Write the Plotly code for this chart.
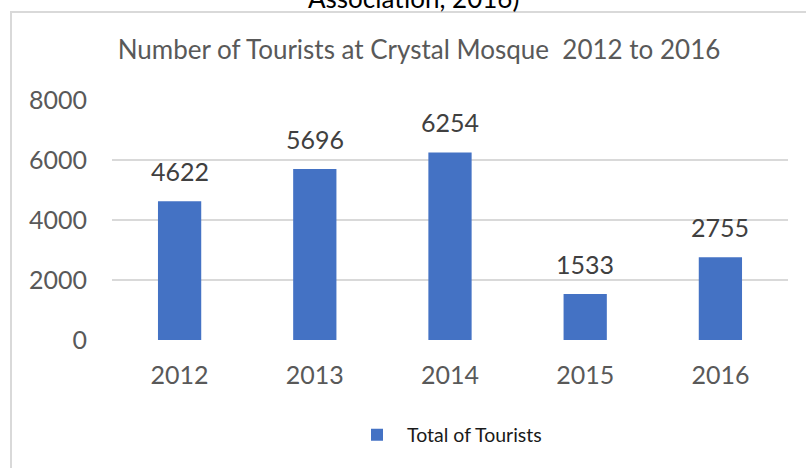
import plotly.graph_objects as go

years = ["2012", "2013", "2014", "2015", "2016"]
tourists = [4622, 5696, 6254, 1533, 2755]
y_ticks = [0, 2000, 4000, 6000, 8000]
series_name = "Total of Tourists"
title_text = "Number of Tourists at Crystal Mosque  2012 to 2016"
caption_text = "Association, 2016)"

W, H = 806, 468
L, R, T, B = 112, 788, 100, 340
FONT = "Lato"
GREY = "#595959"


def px(x):
    return (x - L) / (R - L)


def py(y):
    return (B - y) / (B - T)


fig = go.Figure()
fig.add_trace(go.Bar(
    x=years, y=tourists, name=series_name,
    marker=dict(color="#4472C4", line=dict(width=0)),
    showlegend=True,
))

annotations = []
for i, v in enumerate(tourists):
    annotations.append(dict(
        x=i, y=v, xref="x", yref="y", text=str(v), showarrow=False,
        yanchor="bottom", yshift=13,
        font=dict(family=FONT, size=25, color="#404040"),
    ))
annotations.append(dict(
    x=px(413), y=py(16), xref="paper", yref="paper", text=caption_text,
    showarrow=False, xanchor="center", yanchor="bottom",
    font=dict(family=FONT, size=26, color="#000000"),
))

fig.update_layout(
    width=W, height=H,
    margin=dict(l=L, r=W - R, t=T, b=H - B, pad=0),
    paper_bgcolor="white", plot_bgcolor="white",
    bargap=0.68,
    title=dict(text=title_text, x=419 / W, y=1 - 50 / H, xanchor="center",
               yanchor="middle", xref="container", yref="container",
               font=dict(family=FONT, size=26, color=GREY)),
    font=dict(family=FONT, color=GREY),
    xaxis=dict(type="category", range=[-0.5, len(years) - 0.5],
               showgrid=False, showline=False, zeroline=False,
               tickfont=dict(family=FONT, size=25, color=GREY),
               ticklabelstandoff=18),
    yaxis=dict(range=[0, 8000], tickvals=y_ticks, showgrid=True,
               gridcolor="#d9d9d9", gridwidth=1.5, zeroline=False,
               showline=False,
               tickfont=dict(family=FONT, size=25, color=GREY),
               ticklabelstandoff=24),
    legend=dict(orientation="h", x=px(447), y=py(435), xanchor="center",
                yanchor="middle", font=dict(family=FONT, size=19.5, color="#1a1a1a"),
                itemwidth=50, bgcolor="rgba(0,0,0,0)"),
    annotations=annotations,
    shapes=[dict(type="rect", xref="paper", yref="paper",
                 x0=px(11), x1=px(830), y0=py(12), y1=py(500),
                 line=dict(color="#d9d9d9", width=2), layer="below")],
)

fig.write_html("out.html")
